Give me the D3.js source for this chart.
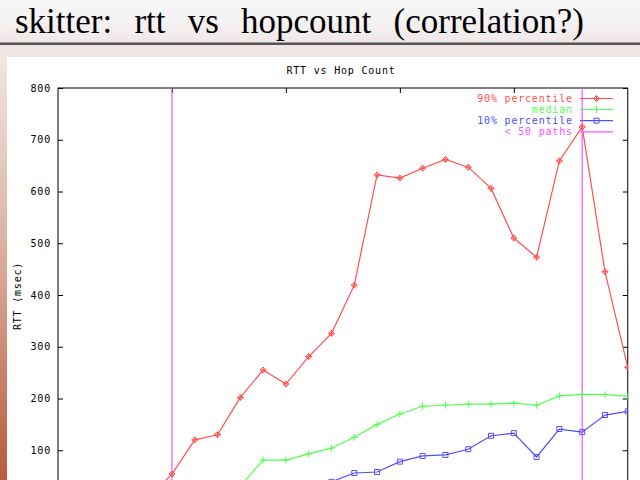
<!DOCTYPE html>
<html><head><meta charset="utf-8">
<script src="https://cdn.jsdelivr.net/npm/d3@7"></script>
<style>html,body{margin:0;padding:0;background:#fff;overflow:hidden}</style>
</head><body>
<svg id="c" width="640" height="480"></svg>
<script>
// ---- data ----
const slideTitle = "skitter: rtt vs hopcount (correlation?)";
const chartTitle = "RTT vs Hop Count";
const yLabel = "RTT (msec)";
const yTicks = [100, 200, 300, 400, 500, 600, 700, 800];
const xTicks = [5, 10, 15, 20];
const hopsP90 = [4,5,6,7,8,9,10,11,12,13,14,15,16,17,18,19,20,21,22,23,24,25];
const rttP90  = [10,54,120,130,202,255,228,281,326,419,632,626,645,662,647,606,510,473,659,725,445,260];
const hopsMed = [8,9,10,11,12,13,14,15,16,17,18,19,20,21,22,23,24,25];
const rttMed  = [31,81,81,93,104,125,150,170,185,187,189,189,191,187,205,208,208,204];
const hopsP10 = [12,13,14,15,16,17,18,19,20,21,22,23,24,25];
const rttP10  = [39,56,58,78,89,91,102,128,133,87,141,135,168,175];
const fewPathHops = [5, 23];
const legendLabels = ["90% percentile", "median", "10% percentile", "< 50 paths"];

const colRed = "#ff5050", colGreen = "#50ff50", colBlue = "#5050ff", colMag = "#ff50ff";

const svg = d3.select("#c");
const defs = svg.append("defs");

// slide background
const tg = defs.append("linearGradient").attr("id","tg").attr("x1",0).attr("y1",0).attr("x2",0).attr("y2",1);
tg.append("stop").attr("offset","0%").attr("stop-color","#f7f7f7");
tg.append("stop").attr("offset","45%").attr("stop-color","#f5f3f3");
tg.append("stop").attr("offset","100%").attr("stop-color","#f1e8e8");
svg.append("rect").attr("x",0).attr("y",0).attr("width",640).attr("height",42).attr("fill","url(#tg)");
svg.append("rect").attr("x",0).attr("y",42).attr("width",640).attr("height",1).attr("fill","#9a9a9a");
svg.append("rect").attr("x",0).attr("y",43).attr("width",640).attr("height",2).attr("fill","#555");
svg.append("rect").attr("x",0).attr("y",45).attr("width",640).attr("height",12).attr("fill","#f0e6e6");
const sg = defs.append("linearGradient").attr("id","sg").attr("x1",0).attr("y1",0).attr("x2",0).attr("y2",1);
sg.append("stop").attr("offset","0%").attr("stop-color","#f0e6e2");
sg.append("stop").attr("offset","45%").attr("stop-color","#dcb0a0");
sg.append("stop").attr("offset","100%").attr("stop-color","#b85a3c");
svg.append("rect").attr("x",0).attr("y",57).attr("width",7).attr("height",423).attr("fill","url(#sg)");

const tt = svg.append("text").attr("x",15).attr("y",33)
  .attr("font-family","Liberation Serif, Times New Roman, serif").attr("font-size",35)
  .attr("fill","#000").text(slideTitle);
const w0 = tt.node().getComputedTextLength();
tt.attr("word-spacing", (569 - w0) / 4);

// ---- chart ----
const x = d3.scaleLinear().domain([0, 25]).range([58, 627.75]);
const y = d3.scaleLinear().domain([0, 800]).range([502, 88]);
const font = "DejaVu Sans Mono, monospace";
const fs = 10, ls = 0.8;

svg.append("text").attr("x",341).attr("y",74).attr("text-anchor","middle")
  .attr("font-family",font).attr("font-size",fs).attr("letter-spacing",ls).attr("fill","#000").text(chartTitle);
svg.append("text").attr("transform","translate(21,296) rotate(-90)").attr("text-anchor","middle")
  .attr("font-family",font).attr("font-size",fs).attr("letter-spacing",ls).attr("fill","#000").text(yLabel);

const gl = svg.append("g").attr("transform",`translate(${x(0)},0)`)
  .call(d3.axisLeft(y).tickValues(yTicks).tickSize(-5).tickPadding(7).tickFormat(d3.format("d")));
const gr = svg.append("g").attr("transform",`translate(${x(25)},0)`)
  .call(d3.axisRight(y).tickValues(yTicks).tickSize(-5).tickFormat(""));
const gt = svg.append("g").attr("transform",`translate(0,${y(800)})`)
  .call(d3.axisTop(x).tickValues(xTicks).tickSize(-5).tickFormat(""));
[gl,gr,gt].forEach(g=>{
  g.select(".domain").remove();
  g.selectAll("line").attr("stroke","#000");
  g.selectAll("text").attr("font-family",font).attr("font-size",fs).attr("letter-spacing",ls).attr("fill","#000");
});
svg.append("rect").attr("x",x(0)).attr("y",y(800)).attr("width",x(25)-x(0)).attr("height",y(0)-y(800))
  .attr("fill","none").attr("stroke","#000").attr("stroke-width",1);

defs.append("clipPath").attr("id","pc").append("rect")
  .attr("x",x(0)).attr("y",y(800)).attr("width",x(25)-x(0)).attr("height",y(0)-y(800));
const plot = svg.append("g").attr("clip-path","url(#pc)");

// magenta markers
plot.selectAll(".vm").data(fewPathHops).join("line")
  .attr("x1",d=>x(d)).attr("x2",d=>x(d)).attr("y1",y(800)).attr("y2",y(0))
  .attr("stroke",colMag).attr("stroke-width",1.2);

const mk = {
  diamond: "M0,-3L3,0L0,3L-3,0Z M-3,0H3 M0,-3V3",
  plus: "M-3.5,0H3.5 M0,-3.5V3.5",
  square: "M-2.5,-2.5h5v5h-5z"
};
const series = [
  {h:hopsP90, v:rttP90, c:colRed, m:mk.diamond},
  {h:hopsMed, v:rttMed, c:colGreen, m:mk.plus},
  {h:hopsP10, v:rttP10, c:colBlue, m:mk.square}
];
const line = d3.line().x(d=>x(d[0])).y(d=>y(d[1]));
series.forEach(s=>{
  const pts = s.h.map((h,i)=>[h, s.v[i]]);
  plot.append("path").attr("d",line(pts)).attr("fill","none").attr("stroke",s.c).attr("stroke-width",1.2);
  plot.selectAll(null).data(pts).join("path")
    .attr("transform",d=>`translate(${x(d[0])},${y(d[1])})`)
    .attr("d",s.m).attr("fill","none").attr("stroke",s.c).attr("stroke-width",1);
});

// legend
const legY = [98.5, 109.5, 120.7, 131.8];
const legCols = [colRed, colGreen, colBlue, colMag];
const legMk = [mk.diamond, mk.plus, mk.square, null];
legendLabels.forEach((lab,i)=>{
  svg.append("text").attr("x",572.8).attr("y",legY[i]+3.6).attr("text-anchor","end")
    .attr("font-family",font).attr("font-size",fs).attr("letter-spacing",ls).attr("fill",legCols[i]).text(lab);
  svg.append("line").attr("x1",580).attr("x2",613).attr("y1",legY[i]).attr("y2",legY[i])
    .attr("stroke",legCols[i]).attr("stroke-width",1.2);
  if (legMk[i]) svg.append("path").attr("transform",`translate(596.5,${legY[i]})`)
    .attr("d",legMk[i]).attr("fill","none").attr("stroke",legCols[i]).attr("stroke-width",1);
});
</script>
</body></html>
